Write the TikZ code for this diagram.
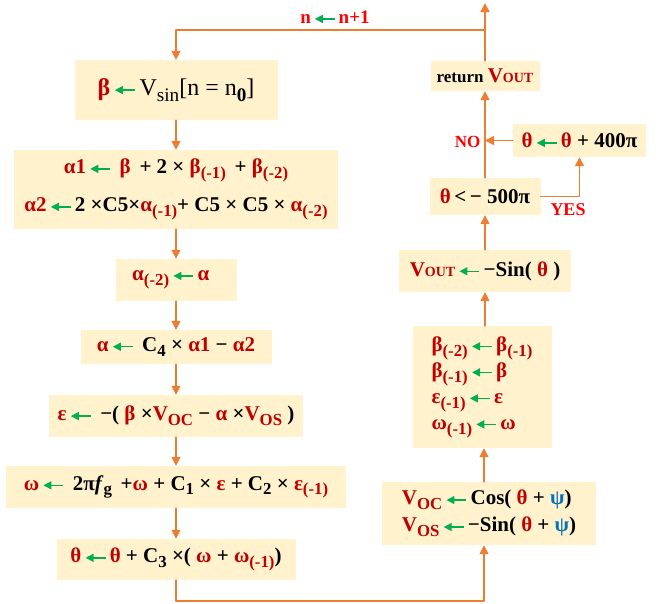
\documentclass[tikz,border=0pt]{standalone}
\usepackage{fontspec}
\setmainfont{Liberation Serif}
\usetikzlibrary{arrows.meta}

\definecolor{boxfill}{HTML}{FFF2CC}
\definecolor{floworange}{HTML}{ED7D31}
\definecolor{varred}{HTML}{C00000}
\definecolor{lblred}{HTML}{FF0000}
\definecolor{asgngreen}{HTML}{00B050}
\definecolor{psiblue}{HTML}{0070C0}

\tikzset{
  blk/.style={fill=boxfill,inner sep=0pt,align=center,
    font=\fontsize{21}{26}\selectfont\bfseries},
  flow/.style={draw=floworange,line width=1.5pt,-{Triangle[length=9pt,width=9pt]}},
  garrow/.style={draw=asgngreen,fill=asgngreen,line width=1.4pt,{Triangle[length=8pt,width=8pt]}-},
  lbl/.style={text=lblred,font=\fontsize{19}{22}\selectfont\bfseries}
}
\newcommand{\ga}{\,\tikz[baseline=-0.5ex]\draw[garrow] (0pt,0pt) -- (20pt,0pt);\,}
\newcommand{\rd}[1]{\textcolor{varred}{#1}}
\newcommand{\lo}[1]{\raisebox{-0.5ex}{\scalebox{0.8}{#1}}}
\newcommand{\vout}{V{\fontsize{14}{14}\selectfont OUT}}

\begin{document}
\begin{tikzpicture}[x=1pt,y=-1pt,line cap=round,line join=round]
  \useasboundingbox (0,0) rectangle (668,603);
  % left column
  \node[blk,minimum width=203pt,minimum height=60pt] (b1) at (176,90)
    {\fontsize{24}{28}\selectfont\rd{β}\ga\mdseries V\lo{sin}[n = n\lo{\bfseries 0}]};
  \node[blk,minimum width=324pt,minimum height=79pt] (b2) at (176,189.5)
    {\rd{α1}\ga\ \rd{β} \,+ 2 × \rd{β\lo{(-1)}} \,+ \rd{β\lo{(-2)}}\\[12pt]
     \rd{α2}\ga2 ×C5×\rd{α\lo{(-1)}}+ C5 × C5 × \rd{α\lo{(-2)}}};
  \node[blk,minimum width=121pt,minimum height=42pt] (b3) at (176,280)
    {\rd{α\lo{(-2)}}\ga\rd{α}\ \ };
  \node[blk,minimum width=191pt,minimum height=34pt] (b4) at (176,347)
    {\rd{α}\ga\ C\lo{4} × \rd{α1} − \rd{α2}};
  \node[blk,minimum width=254pt,minimum height=42pt] (b5) at (176,416)
    {\rd{ε}\ga\ −( \rd{β} ×\rd{V\lo{OC}} − \rd{α} ×\rd{V\lo{OS}} )};
  \node[blk,minimum width=340pt,minimum height=42pt] (b6) at (176,487)
    {\rd{ω}\ga\ 2π\textit{f}\lo{g} \,+\rd{ω} + C\lo{1} × \rd{ε} + C\lo{2} × \rd{ε\lo{(-1)}}};
  \node[blk,minimum width=239pt,minimum height=41pt] (b7) at (176,559.5)
    {\rd{θ}\ga\rd{θ} + C\lo{3} ×( \rd{ω} + \rd{ω\lo{(-1)}})};
  % right column
  \node[blk,minimum width=214pt,minimum height=63pt,align=left] (r1) at (489,513.5)
    {\rd{V\lo{OC}}\ga Cos( \rd{θ} + \textcolor{psiblue}{ψ})\\[1pt]
     \rd{V\lo{OS}}\ga −Sin( \rd{θ} + \textcolor{psiblue}{ψ})};
  \node[blk,minimum width=139pt,minimum height=122pt,align=left] (r2) at (482,387)
    {\rd{β\lo{(-2)}}\ga\rd{β\lo{(-1)}}\\
     \rd{β\lo{(-1)}}\ga\rd{β}\\
     \rd{ε\lo{(-1)}}\ga\rd{ε}\\
     \rd{ω\lo{(-1)}}\ga\rd{ω}};
  \node[blk,minimum width=172pt,minimum height=42pt] (r3) at (485,271)
    {\rd{\vout}\ga −Sin( \rd{θ} )};
  \node[blk,minimum width=111pt,minimum height=37pt] (r4) at (485,196.5)
    {\rd{θ}\,<\,− 500π};
  \node[blk,minimum width=133pt,minimum height=33pt] (r5) at (579.5,140.5)
    {\rd{θ}\ga\rd{θ} + 400π};
  \node[blk,minimum width=109pt,minimum height=30pt] (r6) at (485,76)
    {\fontsize{17}{20}\selectfont return \rd{\fontsize{21}{22}\selectfont\vout}};
  \coordinate (top) at (485,3);
  \coordinate (turn) at (485,30);
  \coordinate (lowright) at (484,601);
  % connectors
  \draw[flow] (b1) -- (b2);
  \draw[flow] (b2) -- (b3);
  \draw[flow] (b3) -- (b4);
  \draw[flow] (b4) -- (b5);
  \draw[flow] (b5) -- (b6);
  \draw[flow] (b6) -- (b7);
  \draw[flow] (b7.south) |- (lowright) -- (lowright |- r1.south);
  \draw[flow] (lowright |- r1.north) -- (lowright |- r2.south);
  \draw[flow] (r2.north -| r3.south) -- (r3.south);
  \draw[flow] (r3) -- (r4);
  \draw[flow] (r4) -- (r6);
  \draw[flow] (r4.east) -| (r5.south);
  \draw[flow] (r5.west) -- (r5.west -| r4.north);
  \draw[flow] (r6.north) -- (top);
  \draw[flow] (turn) -| (b1.north);
  % labels
  \node[lbl] (inc) at (335,17) {n\ga n+1};
  \node[lbl,font=\fontsize{18}{20}\selectfont\bfseries] (yes) at (568,210) {YES};
  \node[lbl,font=\fontsize{17}{20}\selectfont\bfseries,anchor=east] (no) at (484,142) {NO};
\end{tikzpicture}
\end{document}
